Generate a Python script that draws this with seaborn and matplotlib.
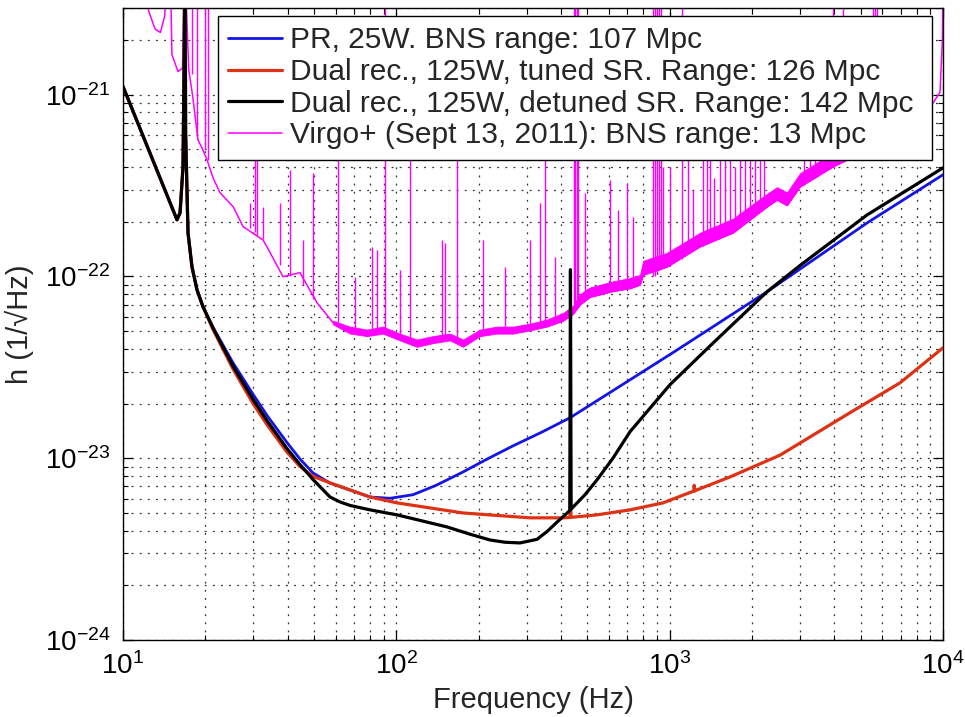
import matplotlib
matplotlib.use("Agg")
import matplotlib.pyplot as plt
import numpy as np
import pandas as pd
import seaborn as sns
from matplotlib.ticker import FixedLocator, LogLocator, NullFormatter

# ---------------- data ----------------
labels = [
    "PR, 25W. BNS range: 107 Mpc",
    "Dual rec., 125W, tuned SR. Range: 126 Mpc",
    "Dual rec., 125W, detuned SR. Range: 142 Mpc",
    "Virgo+ (Sept 13, 2011): BNS range: 13 Mpc",
]
x_ticks = [10, 100, 1000, 10000]
y_ticks = [1e-24, 1e-23, 1e-22, 1e-21]

freq_pr = [10, 15.76, 16.17, 16.58, 16.75, 16.85, 16.95, 17.29, 17.88, 18.65, 19.62, 21.35,
           25.26, 29.9, 33.64, 39.81, 44.42, 49.56, 57.2, 80.1, 94.8, 115.1, 140, 175.3, 215,
           267.3, 340, 432, 716, 1064, 2271, 5272, 10000]
h_pr = [1.11e-21, 2.05e-22, 2.24e-22, 4.02e-22, 1.77e-21, 1e-20, 6e-22, 1.74e-22, 1.13e-22,
        8.45e-23, 6.81e-23, 5.25e-23, 3.35e-23, 2.25e-23, 1.72e-23, 1.22e-23, 9.9e-24, 8.3e-24,
        7.3e-24, 6.12e-24, 6.02e-24, 6.3e-24, 7.1e-24, 8.4e-24, 9.9e-24, 1.17e-23, 1.39e-23,
        1.67e-23, 2.70e-23, 3.94e-23, 8.24e-23, 1.97e-22, 3.63e-22]

freq_tuned = [10, 15.76, 16.17, 16.58, 16.75, 16.85, 16.95, 17.29, 17.88, 18.65, 19.62, 21.35,
              25.26, 29.9, 33.64, 39.81, 44.42, 49.56, 57.2, 80.1, 100.6, 175.3, 308.3, 407.3,
              431, 433.5, 436, 542, 716, 945.5, 1225, 1230, 1236, 1259, 1662, 2534, 4568, 6963,
              10000]
h_tuned = [1.11e-21, 2.05e-22, 2.24e-22, 4.02e-22, 1.77e-21, 1e-20, 6e-22, 1.74e-22, 1.13e-22,
           8.45e-23, 6.81e-23, 5.1e-23, 3.1e-23, 2.0e-23, 1.53e-23, 1.08e-23, 9.0e-24, 7.95e-24,
           7.32e-24, 6.12e-24, 5.68e-24, 5.00e-24, 4.70e-24, 4.70e-24, 4.72e-24, 5.4e-24,
           4.73e-24, 4.88e-24, 5.20e-24, 5.68e-24, 6.6e-24, 7.1e-24, 6.6e-24, 6.70e-24, 7.89e-24,
           1.04e-23, 1.78e-23, 2.60e-23, 4.05e-23]

freq_detuned = [10, 15.76, 16.17, 16.58, 16.75, 16.85, 16.95, 17.29, 17.88, 18.65, 19.62, 21.35,
                25.26, 29.9, 33.64, 39.81, 44.42, 49.56, 57.2, 62.2, 67.7, 80.1, 100.6, 153.2,
                186, 220.2, 249.8, 283.5, 327.1, 355.8, 387.0, 431.0, 433.5, 436.0, 490, 542.1,
                620, 716.1, 1003, 1405, 2271, 2999, 5272, 10000]
h_detuned = [1.11e-21, 2.05e-22, 2.24e-22, 4.02e-22, 1.77e-21, 1e-20, 6e-22, 1.74e-22, 1.13e-22,
             8.45e-23, 6.81e-23, 5.21e-23, 3.21e-23, 2.11e-23, 1.61e-23, 1.13e-23, 9.23e-24,
             7.64e-24, 6.12e-24, 5.75e-24, 5.5e-24, 5.20e-24, 4.88e-24, 4.19e-24, 3.82e-24,
             3.55e-24, 3.45e-24, 3.42e-24, 3.58e-24, 3.95e-24, 4.45e-24, 5.15e-24, 1.09e-22,
             5.25e-24, 6.3e-24, 7.60e-24, 1.0e-23, 1.40e-23, 2.54e-23, 4.15e-23, 8.24e-23,
             1.15e-22, 2.18e-22, 3.96e-22]

virgo_f = [12.0, 12.4, 13.1, 13.7, 14.2, 14.6, 14.9, 15.1, 15.9, 16.5, 16.85, 17.4, 18.0, 18.8,
           19.6, 20.3, 21.35, 22.64, 25.3, 27.5, 32.5, 33.6, 38.5, 44.4, 51.3, 58.7, 67.7, 78.1,
           89.4, 103.1, 119.0, 136.2, 157.2, 175.3, 202.4, 233.5, 267.3, 308.3, 355.8, 407.3,
           443, 470, 511, 620, 716, 779, 800, 978, 1291, 1705, 2271, 2470, 2687, 3000, 3960,
           4455, 6400, 9100, 9750, 9950, 10000]
virgo_h = [5e-21, 2.9e-21, 2.3e-21, 2.2e-21, 2.7e-21, 5e-21, 5e-21, 1.66e-21, 1.34e-21, 1.4e-21,
           5e-21, 1.37e-21, 9.75e-22, 5.65e-22, 4.97e-22, 4.38e-22, 3.49e-22, 2.89e-22, 2.42e-22,
           1.88e-22, 1.59e-22, 1.46e-22, 9.96e-23, 1.05e-22, 7.16e-23, 5.56e-23, 5.08e-23,
           4.89e-23, 5.08e-23, 4.65e-23, 4.31e-23, 4.48e-23, 4.65e-23, 4.31e-23, 4.89e-23,
           5.08e-23, 5.08e-23, 5.29e-23, 5.56e-23, 6.0e-23, 6.56e-23, 7.0e-23, 7.7e-23, 8.3e-23,
           8.6e-23, 9.0e-23, 1.02e-22, 1.13e-22, 1.46e-22, 1.74e-22, 2.42e-22, 2.64e-22,
           2.46e-22, 3.12e-22, 4.02e-22, 4.38e-22, 6.0e-22, 8.8e-22, 1.03e-21, 2.0e-21, 5e-21]

band_f = [58.7, 67.7, 78.1, 89.4, 103.1, 119, 136.2, 157.2, 175.3, 202.4, 233.5, 267.3, 308.3,
          355.8, 407.3, 443, 470, 511, 620, 716, 779, 800, 978, 1291, 1705, 2271, 2470, 2687,
          3000, 3960, 4455, 6400, 9100]
band_lo = [5.45e-23, 4.85e-23, 4.7e-23, 4.85e-23, 4.45e-23, 4.1e-23, 4.3e-23, 4.45e-23, 4.1e-23,
           4.7e-23, 4.85e-23, 4.85e-23, 5.05e-23, 5.3e-23, 5.7e-23, 6.2e-23, 7.0e-23, 7.7e-23,
           8.3e-23, 8.6e-23, 9.0e-23, 1.02e-22, 1.13e-22, 1.46e-22, 1.74e-22, 2.42e-22, 2.64e-22,
           2.46e-22, 3.12e-22, 4.02e-22, 4.38e-22, 6.0e-22, 8.8e-22]
band_hi = [5.7e-23, 5.3e-23, 5.1e-23, 5.3e-23, 4.85e-23, 4.5e-23, 4.7e-23, 4.85e-23, 4.5e-23,
           5.1e-23, 5.3e-23, 5.3e-23, 5.5e-23, 5.8e-23, 6.3e-23, 6.9e-23, 8.0e-23, 8.7e-23,
           9.4e-23, 9.8e-23, 1.02e-22, 1.22e-22, 1.35e-22, 1.74e-22, 2.08e-22, 2.85e-22, 3.1e-22,
           2.9e-22, 3.7e-22, 4.8e-22, 5.45e-22, 7.3e-22, 1.05e-21]

spike_f = [17.9, 18.65, 19.95, 20.46, 29.15, 30.4, 30.9, 32.5, 37.5, 40.8, 45.5, 49.6, 61.2,
           70.6, 81.5, 85.0, 90.9, 103.1, 112.2, 146.9, 150.7, 166.7, 207.6, 249.8, 308.3,
           335.5, 349.9, 380.6, 447, 452, 457, 462, 490, 604.9, 647, 698, 734.5, 870, 885, 900,
           915, 930, 945.5, 1003, 1110, 1167, 1220, 1324, 1365, 1405, 1450, 1528, 1590, 1662,
           1740, 1808, 1890, 1967, 2050, 2140, 2210, 3100, 3262, 3400, 3548, 3700, 3850, 3960,
           4308, 5550, 5640, 5730]
spike_lo = [1.3e-21, 6e-22, 5.0e-22, 4.4e-22, 1.85e-22, 1.75e-22, 1.7e-22, 1.6e-22, 1.15e-22,
            1.0e-22, 9.0e-23, 7.5e-23, 5.6e-23, 5.0e-23, 4.9e-23, 4.9e-23, 4.9e-23, 4.65e-23,
            4.5e-23, 4.5e-23, 4.5e-23, 4.4e-23, 4.9e-23, 5.1e-23, 5.3e-23, 5.4e-23, 5.5e-23,
            5.8e-23, 6.5e-23, 6.6e-23, 6.7e-23, 6.8e-23, 7.4e-23, 8.2e-23, 8.4e-23, 8.6e-23,
            8.8e-23, 1.0e-22, 1.0e-22, 1.05e-22, 1.08e-22, 1.1e-22, 1.13e-22, 1.15e-22, 1.25e-22,
            1.35e-22, 1.4e-22, 1.48e-22, 1.52e-22, 1.55e-22, 1.58e-22, 1.62e-22, 1.66e-22,
            1.72e-22, 1.8e-22, 1.9e-22, 2.0e-22, 2.1e-22, 2.2e-22, 2.3e-22, 2.38e-22, 3.2e-22,
            3.35e-22, 3.5e-22, 3.65e-22, 3.8e-22, 3.95e-22, 4.0e-22, 4.3e-22, 5.5e-22, 5.5e-22,
            5.6e-22]
spike_hi = [5e-21, 5e-21, 5e-21, 5e-21, 2.55e-22, 7e-22, 7e-22, 2.42e-22, 2.55e-22, 3.86e-22,
            1.59e-22, 3.72e-22, 7e-22, 9.96e-23, 1.46e-22, 1.40e-22, 5e-21, 1.09e-22, 7e-22,
            1.59e-22, 1.53e-22, 7e-22, 1.59e-22, 1.13e-22, 1.59e-22, 2.55e-22, 7e-22, 1.28e-22,
            5e-21, 5e-21, 5e-21, 5e-21, 2.89e-22, 3.41e-22, 2.33e-22, 3.28e-22, 2.13e-22, 5e-21,
            5e-21, 5e-21, 5e-21, 5e-21, 4.02e-22, 4.02e-22, 5e-21, 7e-22, 3.0e-22, 7e-22, 4.5e-22,
            7e-22, 3.5e-22, 7e-22, 5e-22, 7e-22, 4.0e-22, 7e-22, 7e-22, 5.5e-22, 7e-22, 7e-22,
            4.5e-22, 7e-22, 7e-22, 7e-22, 7e-22, 7e-22, 7e-22, 5e-21, 5e-21, 5e-21, 5e-21, 5e-21]

# ---------------- style ----------------
sns.set_theme(style="ticks")
plt.rcParams['font.family'] = ['Liberation Sans', 'DejaVu Sans']
plt.rcParams['mathtext.fontset'] = 'custom'
plt.rcParams['mathtext.rm'] = 'Liberation Sans'
plt.rcParams['mathtext.it'] = 'Liberation Sans:italic'
plt.rcParams['mathtext.default'] = 'regular'

c_blue = '#1414e6'
c_red = '#de3214'
c_black = '#000000'
c_mag = '#ff00ff'

fig = plt.figure(figsize=(9.65, 7.17), dpi=100)
ax = fig.add_axes([123/965, 1-640/717, 820/965, 632/717])
ax.set_xscale('log')
ax.set_yscale('log')

# Virgo+ curve
ax.fill_between(band_f, band_lo, band_hi, color=c_mag, lw=0.6, zorder=1.5)
ax.vlines(spike_f, spike_lo, spike_hi, color=c_mag, lw=1.0, zorder=1.5)
sns.lineplot(x=virgo_f, y=virgo_h, ax=ax, color=c_mag, lw=1.1, estimator=None, sort=False,
             label=labels[3], zorder=1.6)

sns.lineplot(x=freq_pr, y=h_pr, ax=ax, color=c_blue, lw=2.0, estimator=None, sort=False,
             label=labels[0], zorder=3)
sns.lineplot(x=freq_tuned, y=h_tuned, ax=ax, color=c_red, lw=2.3, estimator=None, sort=False,
             label=labels[1], zorder=3.2)
sns.lineplot(x=freq_detuned, y=h_detuned, ax=ax, color=c_black, lw=2.3, estimator=None,
             sort=False, label=labels[2], zorder=3.4)

ax.set_xlim(10, 1e4)
ax.set_ylim(1e-24, 3e-21)

ax.xaxis.set_major_locator(FixedLocator(x_ticks))
ax.yaxis.set_major_locator(FixedLocator(y_ticks))
ax.xaxis.set_minor_locator(LogLocator(base=10, subs=np.arange(2, 10), numticks=20))
ax.yaxis.set_minor_locator(LogLocator(base=10, subs=np.arange(2, 10), numticks=20))
ax.xaxis.set_minor_formatter(NullFormatter())
ax.yaxis.set_minor_formatter(NullFormatter())

ax.grid(True, which='major', color='0.2', linestyle=(0, (1.5, 5)), linewidth=0.9)
ax.grid(True, which='minor', color='0.2', linestyle=(0, (1.5, 5)), linewidth=0.9)
ax.tick_params(which='both', direction='in', top=True, right=True, colors='black')
ax.tick_params(which='major', length=7, width=0.9, labelsize=20, pad=9)
ax.tick_params(which='minor', length=3.5, width=0.8)
for s in ax.spines.values():
    s.set_color('black')
    s.set_linewidth(1.0)

ax.set_xlabel('Frequency (Hz)', fontsize=21, labelpad=4)
ax.set_ylabel('h (1/\u221aHz)', fontsize=21, labelpad=8)

handles, labs = ax.get_legend_handles_labels()
order = [labs.index(l) for l in labels]
leg = ax.legend([handles[i] for i in order], [labs[i] for i in order],
                loc='upper left', bbox_to_anchor=(95/820, (640-158)/632, 714/820, 142/632),
                mode='expand', borderaxespad=0,
                fontsize=21.5, frameon=True, fancybox=False, framealpha=1, edgecolor='black',
                handlelength=1.8, handletextpad=0.25, labelspacing=0.12, borderpad=0.35)
leg.get_frame().set_linewidth(1.0)
leg.set_zorder(10)

fig.savefig('out.png', dpi=100)
